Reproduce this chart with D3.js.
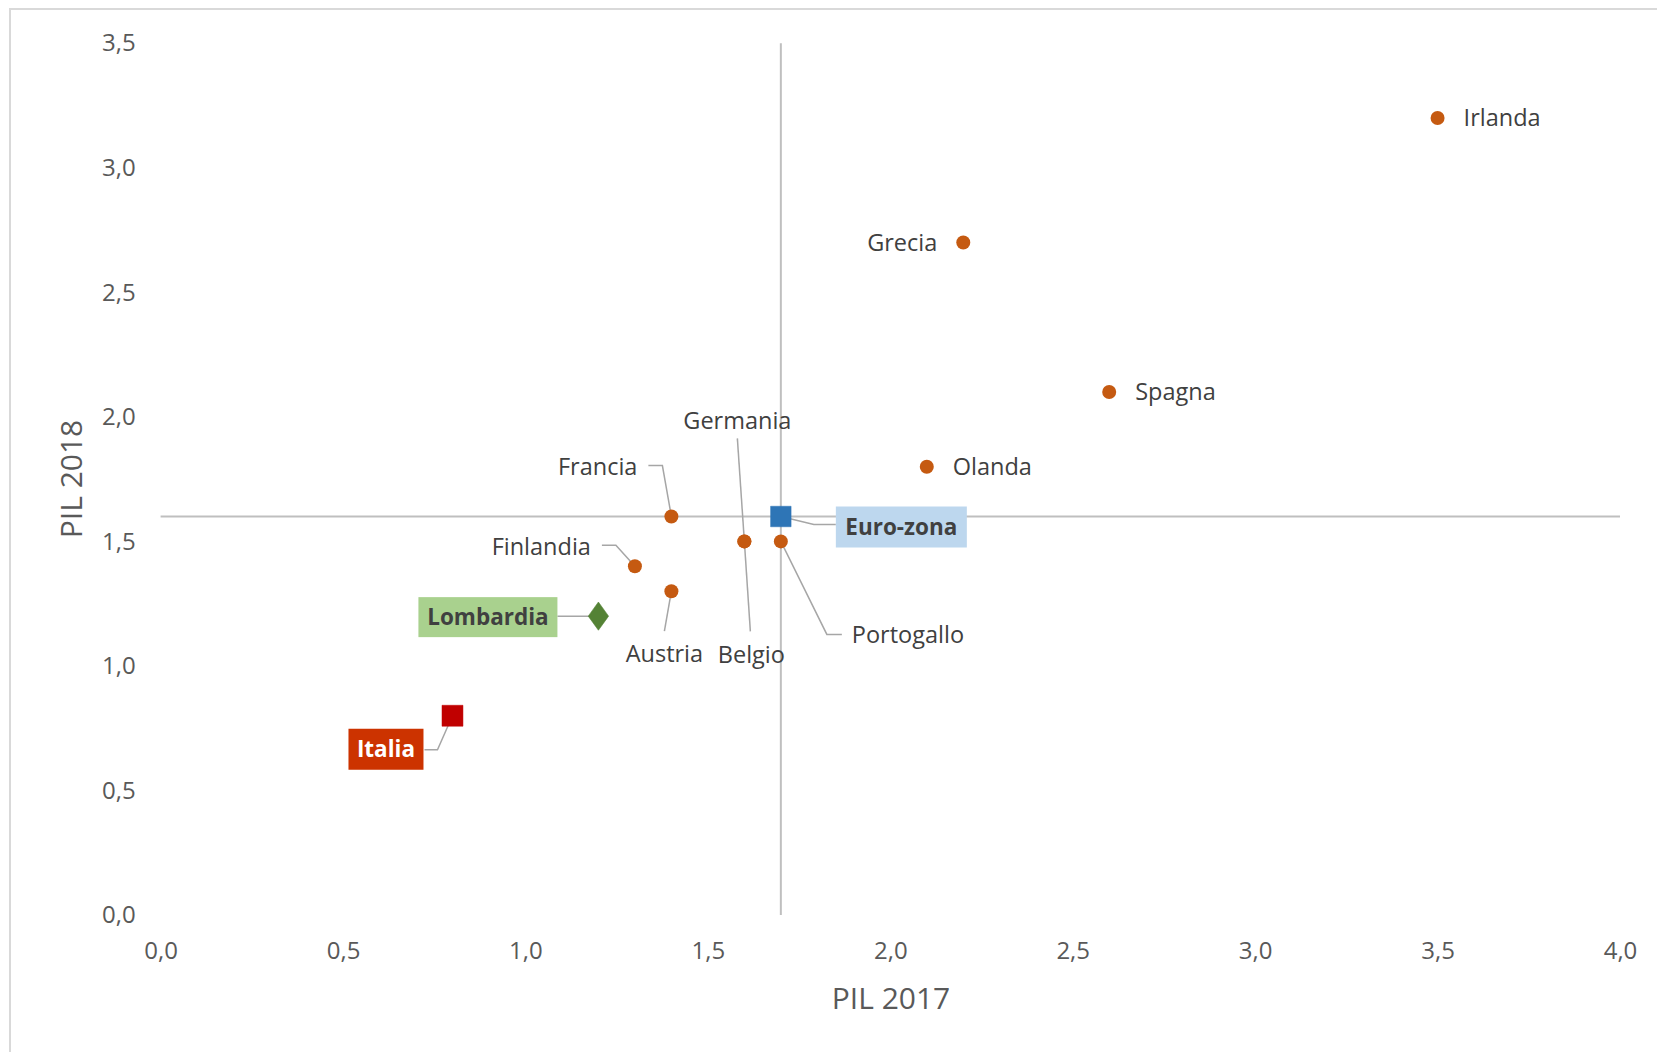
<!DOCTYPE html>
<html>
<head>
<meta charset="utf-8">
<script src="https://cdn.jsdelivr.net/npm/d3@7"></script>
<style>
    body { margin: 0; background: white; }
    svg { display: block; }
</style>
</head>
<body>
<div id="bigdiv"></div>
<script>
// values
var paesi = ['Irlanda', 'Grecia', 'Spagna', 'Olanda', 'Francia', 'Germania', 'Belgio', 'Portogallo', 'Finlandia', 'Austria']
var pil2017 = [3.5, 2.2, 2.6, 2.1, 1.4, 1.6, 1.6, 1.7, 1.3, 1.4]
var pil2018 = [3.2, 2.7, 2.1, 1.8, 1.6, 1.5, 1.5, 1.5, 1.4, 1.3]

var speciali = ['Euro-zona', 'Lombardia', 'Italia']
var spec2017 = [1.7, 1.2, 0.8]
var spec2018 = [1.6, 1.2, 0.8]

var xticks = [0, 0.5, 1, 1.5, 2, 2.5, 3, 3.5, 4]
var yticks = [0, 0.5, 1, 1.5, 2, 2.5, 3, 3.5]

// reference lines (euro-zona)
var refX = 1.7
var refY = 1.6

// label layout, pixel offsets from the marker
var labelpos = {
    'Irlanda': { dx: 26, dy: 0, anchor: 'start' },
    'Grecia': { dx: -26, dy: 0, anchor: 'end' },
    'Spagna': { dx: 26, dy: 0, anchor: 'start' },
    'Olanda': { dx: 26, dy: 0, anchor: 'start' },
    'Francia': { dx: -34, dy: -50, anchor: 'end', leader: [[-23, -51], [-9, -51], [0, 0]] },
    'Germania': { dx: -7, dy: -121, anchor: 'middle', leader: [[-7, -103], [0, 0]] },
    'Belgio': { dx: 7, dy: 113, anchor: 'middle', leader: [[6, 90], [0, 0]] },
    'Portogallo': { dx: 71, dy: 93, anchor: 'start', leader: [[61, 93], [46, 93], [0, 0]] },
    'Finlandia': { dx: -44, dy: -20, anchor: 'end', leader: [[-33, -21], [-19, -21], [0, 0]] },
    'Austria': { dx: -7, dy: 63, anchor: 'middle', leader: [[-7, 40], [0, 0]] }
}
var boxpos = {
    'Euro-zona': { x: 55, y: -10, w: 131, h: 41, fill: '#bdd7ee', color: '#404040', leader: [[0, 0], [33, 8], [55, 8]] },
    'Lombardia': { x: -180, y: -19, w: 139, h: 40, fill: '#a9d18e', color: '#404040', leader: [[-41, 0], [0, 0]] },
    'Italia': { x: -104, y: 13, w: 75, h: 41, fill: '#cc3300', color: '#ffffff', leader: [[-28, 34], [-15, 34], [0, 0]] }
}

var W = 1657, H = 1052
var font = "'Open Sans', 'Noto Sans', sans-serif"

let svg = d3.select('div#bigdiv').append('svg')
    .attr('width', W).attr('height', H)

svg.append('rect')
    .attr('x', 10).attr('y', 9).attr('width', W + 20).attr('height', H + 20)
    .attr('fill', 'white').attr('stroke', '#d9d9d9').attr('stroke-width', 2)

let x = d3.scaleLinear().domain([0, 4]).range([160.6, 1620])
let y = d3.scaleLinear().domain([0, 3.5]).range([915, 43.3])
let fmt = d => d3.format('.1f')(d).replace('.', ',')

// axes, no lines only labels
let xaxis = svg.append('g').attr('transform', 'translate(0,' + y(0) + ')')
    .call(d3.axisBottom(x).tickValues(xticks).tickFormat(fmt).tickSize(0).tickPadding(27))
let yaxis = svg.append('g').attr('transform', 'translate(' + x(0) + ',0)')
    .call(d3.axisLeft(y).tickValues(yticks).tickFormat(fmt).tickSize(0).tickPadding(25))
svg.selectAll('.domain').remove()
svg.selectAll('.tick text')
    .attr('font-family', font).attr('font-size', 24).attr('fill', '#595959')

svg.append('text')
    .attr('x', 891).attr('y', 1009)
    .attr('text-anchor', 'middle')
    .attr('font-family', font).attr('font-size', 30).attr('fill', '#595959')
    .text('PIL 2017')
svg.append('text')
    .attr('transform', 'translate(82,479) rotate(-90)')
    .attr('text-anchor', 'middle')
    .attr('font-family', font).attr('font-size', 30).attr('fill', '#595959')
    .text('PIL 2018')

// reference lines
svg.append('line')
    .attr('x1', x(refX)).attr('x2', x(refX)).attr('y1', y(3.5)).attr('y2', y(0))
    .attr('stroke', '#bfbfbf').attr('stroke-width', 2)
svg.append('line')
    .attr('x1', x(0)).attr('x2', x(4)).attr('y1', y(refY)).attr('y2', y(refY))
    .attr('stroke', '#bfbfbf').attr('stroke-width', 2)

let line = d3.line()

// country points
let pts = paesi.map((p, i) => ({ name: p, px: x(pil2017[i]), py: y(pil2018[i]) }))

let leaders = svg.append('g')
pts.forEach(d => {
    let lp = labelpos[d.name]
    if (lp.leader) {
        leaders.append('path')
            .attr('d', line(lp.leader.map(q => [d.px + q[0], d.py + q[1]])))
            .attr('fill', 'none').attr('stroke', '#a6a6a6').attr('stroke-width', 1.5)
    }
})

let spts = speciali.map((p, i) => ({ name: p, px: x(spec2017[i]), py: y(spec2018[i]) }))
spts.forEach(d => {
    let bp = boxpos[d.name]
    leaders.append('path')
        .attr('d', line(bp.leader.map(q => [d.px + q[0], d.py + q[1]])))
        .attr('fill', 'none').attr('stroke', '#a6a6a6').attr('stroke-width', 1.5)
})

svg.append('g').selectAll('circle')
    .data(pts)
    .enter()
    .append('circle')
    .attr('cx', d => d.px).attr('cy', d => d.py).attr('r', 7)
    .attr('fill', '#c55a11')

svg.append('g').selectAll('text')
    .data(pts)
    .enter()
    .append('text')
    .attr('x', d => d.px + labelpos[d.name].dx)
    .attr('y', d => d.py + labelpos[d.name].dy)
    .attr('dy', '0.35em')
    .attr('text-anchor', d => labelpos[d.name].anchor)
    .attr('font-family', font).attr('font-size', 23.5).attr('fill', '#404040')
    .text(d => d.name)

// special markers
let sym = {
    'Euro-zona': d3.symbol().type(d3.symbolSquare).size(420),
    'Lombardia': d3.symbol().type(d3.symbolDiamond).size(230),
    'Italia': d3.symbol().type(d3.symbolSquare).size(440)
}
let symfill = { 'Euro-zona': '#2e75b6', 'Lombardia': '#548235', 'Italia': '#c00000' }

svg.append('g').selectAll('path')
    .data(spts)
    .enter()
    .append('path')
    .attr('transform', d => 'translate(' + d.px + ',' + d.py + ')' + (d.name === 'Lombardia' ? ' scale(1.25,1)' : ''))
    .attr('d', d => sym[d.name]())
    .attr('fill', d => symfill[d.name])
    .attr('stroke', d => symfill[d.name]).attr('stroke-width', 0.5)

let boxes = svg.append('g').selectAll('g')
    .data(spts)
    .enter()
    .append('g')
    .attr('transform', d => 'translate(' + (d.px + boxpos[d.name].x) + ',' + (d.py + boxpos[d.name].y) + ')')
boxes.append('rect')
    .attr('width', d => boxpos[d.name].w).attr('height', d => boxpos[d.name].h)
    .attr('fill', d => boxpos[d.name].fill)
boxes.append('text')
    .attr('x', d => boxpos[d.name].w / 2).attr('y', d => boxpos[d.name].h / 2)
    .attr('dy', '0.36em')
    .attr('text-anchor', 'middle')
    .attr('font-family', font).attr('font-size', 22.5).attr('font-weight', 'bold')
    .attr('fill', d => boxpos[d.name].color)
    .text(d => d.name)
</script>
</body>
</html>
